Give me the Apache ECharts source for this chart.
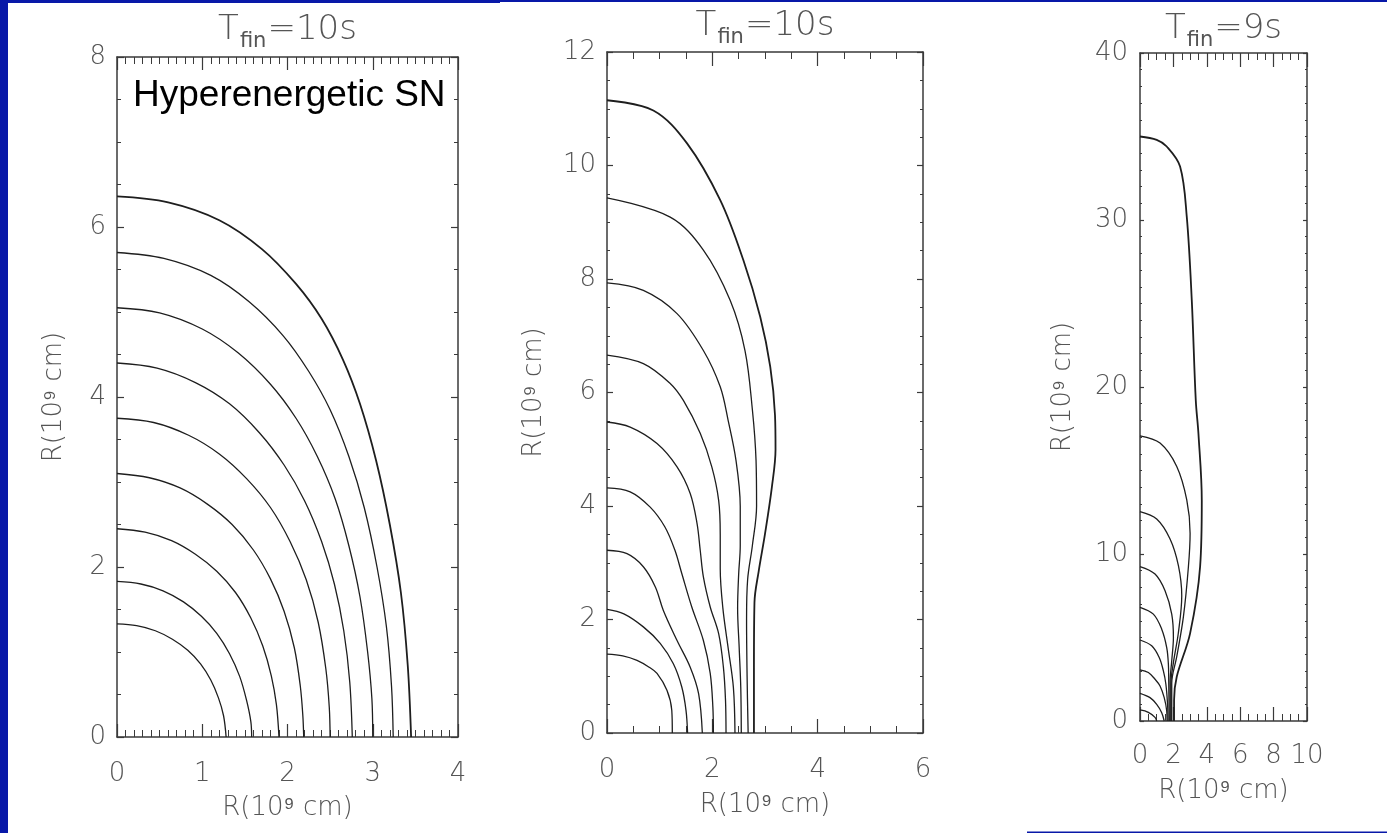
<!DOCTYPE html>
<html>
<head>
<meta charset="utf-8">
<script src="https://cdn.jsdelivr.net/npm/echarts@6/dist/echarts.min.js"></script>
<style>
  html, body { margin: 0; padding: 0; background: #ffffff; }
  #chart { width: 1387px; height: 833px; }
</style>
</head>
<body>
<div id="chart"></div>
<script>
// ---- Panel A: hyperenergetic SN, T_fin = 10 s (x 0-4, y 0-8) ----
const panelATitle = 'T{s|fin}=10s';
const panelAContours = [
  [[0,1.33],[0.23,1.31],[0.45,1.25],[0.65,1.15],[0.83,1.02],[0.98,0.86],[1.10,0.67],[1.19,0.46],[1.25,0.25],[1.28,0]],
  [[0,1.83],[0.28,1.80],[0.54,1.72],[0.78,1.59],[0.99,1.42],[1.17,1.22],[1.32,0.98],[1.44,0.71],[1.52,0.43],[1.57,0.18],[1.58,0]],
  [[0,2.45],[0.33,2.41],[0.64,2.31],[0.92,2.15],[1.17,1.95],[1.39,1.70],[1.57,1.40],[1.71,1.07],[1.81,0.72],[1.87,0.38],[1.90,0]],
  [[0,3.10],[0.38,3.05],[0.74,2.93],[1.06,2.74],[1.35,2.50],[1.60,2.20],[1.80,1.86],[1.96,1.48],[2.08,1.05],[2.15,0.60],[2.18,0.25],[2.19,0]],
  [[0,3.75],[0.43,3.70],[0.84,3.55],[1.20,3.33],[1.52,3.04],[1.80,2.70],[2.03,2.30],[2.22,1.85],[2.36,1.35],[2.45,0.80],[2.49,0.35],[2.50,0]],
  [[0,4.40],[0.47,4.34],[0.92,4.17],[1.32,3.92],[1.67,3.58],[1.96,3.20],[2.20,2.78],[2.40,2.30],[2.55,1.80],[2.66,1.25],[2.73,0.65],[2.76,0]],
  [[0,5.05],[0.50,4.99],[1.00,4.80],[1.42,4.52],[1.80,4.15],[2.10,3.75],[2.35,3.30],[2.56,2.80],[2.72,2.25],[2.85,1.65],[2.94,1.00],[2.99,0.45],[3.00,0]],
  [[0,5.70],[0.55,5.63],[1.10,5.43],[1.55,5.12],[1.95,4.72],[2.25,4.30],[2.50,3.85],[2.72,3.30],[2.90,2.70],[3.05,2.00],[3.16,1.30],[3.22,0.60],[3.24,0]],
  [[0,6.36],[0.60,6.29],[1.20,6.08],[1.70,5.74],[2.10,5.33],[2.40,4.92],[2.65,4.44],[2.85,3.92],[3.04,3.25],[3.20,2.50],[3.33,1.70],[3.41,0.85],[3.45,0]]
];

// ---- Panel B: T_fin = 10 s (x 0-6, y 0-12) ----
const panelBTitle = 'T{s|fin}=10s';
const panelBContours = [
  [[0,1.39],[0.30,1.36],[0.57,1.28],[0.80,1.16],[0.95,1.05],[1.14,0.75],[1.23,0.40],[1.24,0]],
  [[0,2.18],[0.32,2.10],[0.69,1.87],[1.01,1.58],[1.26,1.22],[1.42,0.81],[1.50,0.40],[1.53,0]],
  [[0,3.22],[0.38,3.16],[0.69,2.93],[0.92,2.57],[1.07,2.16],[1.33,1.63],[1.58,1.16],[1.74,0.69],[1.81,0]],
  [[0,4.32],[0.44,4.25],[0.82,3.98],[1.10,3.63],[1.29,3.22],[1.42,2.81],[1.61,2.22],[1.83,1.63],[1.96,1.05],[2.01,0.46],[2.02,0]],
  [[0,5.48],[0.44,5.39],[0.95,5.10],[1.33,4.69],[1.58,4.22],[1.71,3.69],[1.77,3.22],[1.83,2.75],[1.96,2.22],[2.12,1.75],[2.21,1.16],[2.25,0.58],[2.26,0]],
  [[0,6.66],[0.69,6.51],[1.20,6.16],[1.45,5.86],[1.77,5.28],[1.99,4.69],[2.12,4.10],[2.15,3.50],[2.15,2.90],[2.20,2.20],[2.30,1.50],[2.40,0.80],[2.43,0]],
  [[0,7.93],[0.69,7.80],[1.33,7.39],[1.83,6.74],[2.15,6.10],[2.30,5.51],[2.45,4.80],[2.53,4.00],[2.53,3.30],[2.50,2.80],[2.48,2.20],[2.51,1.50],[2.54,0.80],[2.55,0]],
  [[0,9.43],[1.20,9.09],[1.83,8.51],[2.34,7.62],[2.62,6.74],[2.76,5.70],[2.83,4.80],[2.84,4.00],[2.76,3.30],[2.67,2.70],[2.65,2.00],[2.66,1.00],[2.68,0]],
  [[0,11.15],[0.88,10.97],[1.52,10.39],[2.15,9.39],[2.59,8.33],[2.91,7.33],[3.10,6.45],[3.19,5.60],[3.20,5.00],[3.13,4.33],[3.00,3.51],[2.88,2.85],[2.80,2.30],[2.79,1.16],[2.79,0]]
];

// ---- Panel C: T_fin = 9 s (x 0-10, y 0-40) ----
const panelCTitle = 'T{s|fin}=9s';
const panelCContours = [
  [[0,0.66],[0.50,0.52],[0.90,0.22],[1.00,0]],
  [[0,1.66],[0.60,1.40],[1.00,1.00],[1.30,0.50],[1.45,0]],
  [[0,3.06],[0.50,2.90],[0.90,2.50],[1.20,2.10],[1.45,1.40],[1.60,0.60],[1.62,0]],
  [[0,4.85],[0.70,4.50],[1.15,3.80],[1.40,3.00],[1.55,2.20],[1.65,1.00],[1.68,0]],
  [[0,6.81],[0.80,6.40],[1.30,5.50],[1.60,4.40],[1.70,3.40],[1.72,2.40],[1.75,0]],
  [[0,9.25],[0.90,8.80],[1.50,7.80],[1.90,6.40],[2.00,5.00],[1.90,3.60],[1.80,2.30],[1.80,0]],
  [[0,12.54],[1.00,12.10],[1.80,10.90],[2.30,9.30],[2.50,7.50],[2.30,5.30],[2.00,3.50],[1.85,2.20],[1.85,0]],
  [[0,17.08],[1.20,16.64],[2.20,15.24],[2.80,13.24],[3.00,11.25],[2.90,9.25],[2.60,6.25],[2.20,3.85],[1.90,2.26],[1.90,0]],
  [[0,35.0],[1.00,34.8],[1.60,34.4],[2.40,33.2],[2.80,30.2],[3.10,25.2],[3.34,19.2],[3.50,17.2],[3.70,13.2],[3.60,9.25],[3.00,5.25],[2.20,2.65],[2.04,1.26],[2.04,0]]
];

const axisName = 'R(10\u2079 cm)';
const annotation = 'Hyperenergetic SN';

// ---- layout ----
const panels = [
  { title: panelATitle, contours: panelAContours, grid: { left: 117, top: 57, width: 341, height: 680 },
    x: { max: 4, interval: 1, minor: 10, tick: 13, labelMargin: 24, nameGap: 58 },
    y: { max: 8, interval: 2, minor: 4, tick: 7, labelMargin: 11, nameGap: 50 },
    titleY: 30 },
  { title: panelBTitle, contours: panelBContours, grid: { left: 607, top: 52, width: 316, height: 681 },
    x: { max: 6, interval: 2, minor: 4, tick: 14, labelMargin: 24, nameGap: 59 },
    y: { max: 12, interval: 2, minor: 4, tick: 6, labelMargin: 11, nameGap: 60 },
    titleY: 26 },
  { title: panelCTitle, contours: panelCContours, grid: { left: 1140, top: 53, width: 167, height: 668 },
    x: { max: 10, interval: 2, minor: 4, tick: 14, labelMargin: 22, nameGap: 57 },
    y: { max: 40, interval: 10, minor: 10, tick: 4, labelMargin: 12, nameGap: 64 },
    titleY: 29 }
];

const FONT = '"DejaVu Sans", sans-serif';
const TEXT = '#555555';
const AXIS = '#3a3a3a';
const CURVE = '#1e1e1e';

const grids = [], xAxes = [], yAxes = [], series = [], graphics = [];

function axisBase(cfg, showLabel, isX, gi, pos) {
  return {
    type: 'value', gridIndex: gi, position: pos, min: 0, max: cfg.max, interval: cfg.interval,
    axisLine: { show: true, onZero: false, lineStyle: { color: AXIS, width: 1.5 } },
    axisTick: { show: true, inside: true, length: cfg.tick, lineStyle: { color: AXIS, width: 1.2 } },
    minorTick: { show: true, splitNumber: cfg.minor, length: Math.round(cfg.tick / 2), lineStyle: { color: AXIS, width: 1 } },
    splitLine: { show: false },
    minorSplitLine: { show: false },
    axisLabel: { show: showLabel, margin: cfg.labelMargin, color: TEXT, fontSize: 26, fontFamily: FONT, fontWeight: 300,
                 showMinLabel: true, showMaxLabel: true },
    name: showLabel ? axisName : '',
    nameLocation: 'middle',
    nameGap: cfg.nameGap,
    nameRotate: isX ? 0 : 90,
    nameTextStyle: { color: TEXT, fontSize: 26, fontFamily: FONT, fontWeight: 300 }
  };
}

panels.forEach((p, gi) => {
  grids.push(Object.assign({ containLabel: false, show: false }, p.grid));
  const xb = xAxes.length;
  xAxes.push(axisBase(p.x, true, true, gi, 'bottom'));
  xAxes.push(axisBase(p.x, false, true, gi, 'top'));
  const yb = yAxes.length;
  yAxes.push(axisBase(p.y, true, false, gi, 'left'));
  yAxes.push(axisBase(p.y, false, false, gi, 'right'));
  p.contours.forEach((c, ci) => {
    const outer = ci === p.contours.length - 1;
    series.push({
      type: 'line', xAxisIndex: xb, yAxisIndex: yb, data: c,
      showSymbol: false, smooth: 0.35, silent: true, animation: false,
      lineStyle: { color: CURVE, width: outer ? 1.8 : 1.3 }
    });
  });
  graphics.push({
    type: 'text', x: p.grid.left + p.grid.width / 2, y: p.titleY,
    style: {
      text: p.title, fill: TEXT, fontSize: 34, fontFamily: FONT, fontWeight: 300,
      align: 'center', verticalAlign: 'middle',
      rich: { s: { fontSize: 21, fontFamily: FONT, fill: TEXT, padding: [24, 1, 0, 1] } }
    }
  });
});

// slide frame strips
const BLUE = '#0818a8';
graphics.push(
  { type: 'rect', shape: { x: 0, y: 0, width: 8, height: 833 }, style: { fill: BLUE } },
  { type: 'rect', shape: { x: 0, y: 0, width: 500, height: 3 }, style: { fill: BLUE } },
  { type: 'rect', shape: { x: 500, y: 0, width: 887, height: 2 }, style: { fill: BLUE } },
  { type: 'rect', shape: { x: 1027, y: 831.5, width: 360, height: 1.5 }, style: { fill: BLUE } },
  { type: 'text', x: 133, y: 96, style: { text: annotation, fill: '#000', fontSize: 37,
    fontFamily: '"Liberation Sans", Arial, sans-serif', align: 'left', verticalAlign: 'middle' } }
);

const chart = echarts.init(document.getElementById('chart'), null, { renderer: 'canvas' });
chart.setOption({
  backgroundColor: '#ffffff',
  animation: false,
  grid: grids,
  xAxis: xAxes,
  yAxis: yAxes,
  series: series,
  graphic: graphics
});
</script>
</body>
</html>
